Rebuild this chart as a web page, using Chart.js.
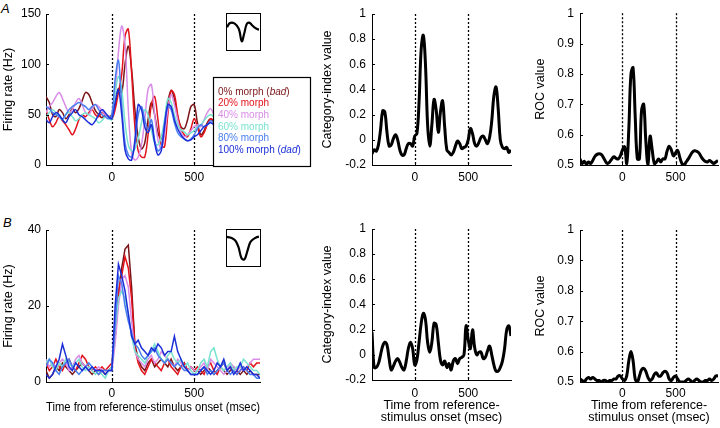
<!DOCTYPE html>
<html>
<head>
<meta charset="utf-8">
<script src="https://cdn.jsdelivr.net/npm/chart.js@4.4.1/dist/chart.umd.min.js"></script>
<style>
  body { margin: 0; background: #fff; }
  #wrap { position: relative; width: 720px; height: 428px; overflow: hidden; font-family: "Liberation Sans", Arial, sans-serif; }
  canvas { position: absolute; }
  .inset { position: absolute; width: 35px; height: 38px; border: 1.5px solid #000; box-sizing: border-box; background: #fff; }
  .inset canvas { left: 0; top: 0; }
  .tag { position: absolute; font-style: italic; font-size: 13px; line-height: 1; }
</style>
</head>
<body>
<div id="wrap">
  <div class="tag" style="left:1px; top:2px">A</div>
  <div class="tag" style="left:3px; top:216px">B</div>

  <canvas id="rateA" width="320" height="200" style="left:1px; top:0"></canvas>
  <canvas id="catA" width="196" height="200" style="left:320px; top:0"></canvas>
  <canvas id="rocA" width="187" height="200" style="left:533px; top:0"></canvas>

  <canvas id="rateB" width="320" height="212" style="left:1px; top:216px"></canvas>
  <canvas id="catB" width="196" height="213" style="left:320px; top:215px"></canvas>
  <canvas id="rocB" width="187" height="212" style="left:533px; top:216px"></canvas>

  <div class="inset" style="left:226px; top:13px"><canvas id="waveA" width="32" height="35"></canvas></div>
  <div class="inset" style="left:226px; top:229px"><canvas id="waveB" width="32" height="35"></canvas></div>
</div>

<script>
// time bins (msec from reference-stimulus onset)
const timeMs = [-400, -380, -360, -340, -320, -300, -280, -260, -240, -220, -200, -180, -160, -140, -120, -100, -80, -60, -40, -20,
  0, 20, 40, 60, 80, 100, 120, 140, 160, 180, 200, 220, 240, 260, 280, 300, 320, 340, 360, 380, 400, 420, 440, 460, 480, 500,
  520, 540, 560, 580, 600, 620, 640, 660, 680, 700, 720, 740, 760, 780, 800, 820, 840, 860, 880, 900];
const markerTimes = [0, 500];
const xTickValues = [0, 500];

const morphLevels = ['0%', '20%', '40%', '60%', '80%', '100%'];
const morphNotes = ['bad', '', '', '', '', 'dad'];
const morphColors = ['#7a1418', '#e3121b', '#d98de6', '#79e3cf', '#4a7ef0', '#1c2ed8'];

// neuron A firing rate (Hz), -400..620 ms
const rateA0 = [68, 62, 50, 48, 55, 52, 46, 50, 56, 52, 56, 64, 72, 70, 62, 54, 50, 47, 50, 48,
  50, 60, 76, 72, 100, 118, 95, 55, 28, 16, 22, 45, 62, 50, 32, 26, 35, 62, 74, 66, 48, 38, 36, 45, 58, 60, 42, 30, 34, 42, 46, 42];
const rateA20 = [55, 45, 38, 42, 48, 44, 40, 35, 30, 36, 45, 50, 48, 52, 55, 50, 48, 52, 50, 48,
  46, 55, 72, 90, 128, 135, 92, 38, 14, 8, 8, 30, 60, 68, 45, 20, 18, 50, 74, 70, 50, 36, 30, 28, 36, 46, 38, 28, 32, 40, 46, 44];
const rateA40 = [52, 58, 62, 68, 72, 66, 58, 52, 55, 62, 66, 60, 52, 50, 56, 60, 58, 54, 50, 48,
  48, 72, 112, 138, 120, 55, 12, 5, 8, 20, 45, 75, 80, 50, 25, 16, 30, 55, 70, 60, 45, 32, 28, 30, 34, 38, 40, 38, 45, 52, 56, 50];
const rateA60 = [48, 52, 55, 52, 48, 45, 50, 52, 48, 44, 46, 50, 52, 50, 48, 46, 42, 44, 48, 46,
  45, 70, 88, 75, 42, 20, 14, 16, 26, 42, 55, 50, 35, 22, 20, 28, 45, 66, 62, 50, 40, 35, 33, 30, 32, 34, 38, 40, 44, 48, 50, 48];
const rateA80 = [58, 56, 52, 50, 48, 46, 50, 55, 58, 60, 62, 60, 58, 55, 58, 60, 55, 50, 48, 46,
  50, 85, 104, 60, 22, 10, 8, 20, 50, 58, 45, 35, 45, 25, 14, 18, 42, 58, 55, 42, 32, 28, 26, 24, 26, 30, 36, 40, 38, 40, 44, 42];
const rateA100 = [45, 42, 48, 52, 50, 45, 42, 48, 52, 55, 50, 48, 45, 42, 40, 44, 50, 55, 52, 48,
  46, 62, 75, 50, 15, 6, 5, 25, 60, 55, 38, 32, 40, 22, 10, 14, 38, 60, 58, 45, 36, 30, 26, 24, 25, 28, 30, 34, 38, 40, 42, 40];

// neuron B firing rate (Hz), -400..900 ms
const rateB0 = [3, 1, 2, 4, 3, 5, 4, 3, 2, 3, 4, 5, 4, 3, 2, 3, 2, 3, 2, 3,
  4, 12, 22, 30, 35, 36, 25, 10, 6, 4, 3, 5, 6, 4, 5, 6, 5, 4, 6, 4, 3, 4, 5, 3, 4, 3,
  3, 2, 3, 4, 3, 2, 3, 4, 3, 2, 3, 4, 3, 2, 3, 2, 3, 2, 2, 2];
const rateB20 = [5, 3, 4, 6, 4, 3, 5, 6, 4, 3, 5, 7, 6, 4, 3, 4, 3, 4, 3, 4,
  5, 12, 24, 28, 33, 30, 22, 9, 5, 3, 2, 4, 6, 5, 4, 3, 5, 6, 4, 3, 2, 4, 5, 3, 4, 3,
  4, 3, 2, 4, 5, 3, 2, 4, 5, 3, 4, 3, 2, 3, 4, 3, 5, 4, 5, 5];
const rateB40 = [6, 4, 5, 4, 5, 6, 5, 3, 4, 6, 7, 5, 4, 3, 4, 3, 4, 3, 3, 3,
  3, 10, 20, 27, 28, 25, 16, 8, 6, 5, 4, 6, 7, 5, 6, 8, 7, 6, 5, 4, 6, 5, 4, 3, 4, 3,
  3, 4, 5, 3, 6, 5, 4, 3, 2, 3, 5, 4, 3, 4, 3, 4, 5, 6, 6, 6];
const rateB60 = [5, 6, 4, 3, 5, 4, 6, 5, 4, 5, 6, 4, 3, 4, 3, 2, 3, 2, 1, 3,
  4, 14, 22, 24, 22, 18, 12, 8, 7, 6, 5, 7, 8, 10, 8, 6, 5, 7, 8, 6, 5, 6, 4, 5, 3, 2,
  3, 5, 6, 4, 8, 9, 6, 4, 3, 4, 5, 3, 4, 4, 6, 5, 4, 3, 3, 2];
const rateB80 = [4, 6, 5, 3, 2, 4, 5, 6, 4, 3, 2, 3, 4, 5, 4, 3, 2, 3, 3, 3,
  3, 15, 28, 26, 20, 16, 13, 10, 9, 7, 6, 7, 8, 9, 7, 6, 5, 6, 5, 4, 5, 4, 3, 3, 2, 2,
  2, 3, 4, 2, 3, 2, 3, 4, 5, 3, 2, 3, 2, 3, 4, 3, 2, 2, 1, 1];
const rateB100 = [2, 1, 2, 4, 6, 10, 7, 4, 3, 5, 4, 3, 4, 3, 4, 3, 3, 3, 2, 3,
  3, 20, 31, 28, 24, 18, 12, 10, 11, 9, 8, 7, 9, 8, 10, 9, 7, 8, 8, 12, 8, 6, 4, 3, 2, 2,
  2, 3, 4, 3, 2, 3, 5, 4, 6, 3, 4, 2, 3, 5, 3, 4, 3, 2, 2, 1];

// category index and ROC, -400..900 ms
const catIndexA = [-0.11, -0.08, -0.09, -0.04, 0.08, 0.23, 0.22, 0.06, -0.05, -0.04, 0.01, 0.04, 0.0, -0.08, -0.12, -0.12, -0.07, -0.03, -0.03, -0.05,
  0.03, 0.05, 0.3, 0.72, 0.83, 0.6, 0.12, -0.05, 0.12, 0.32, 0.24, 0.06, 0.22, 0.31, 0.1, -0.08, -0.1, -0.12, -0.1, -0.05,
  -0.01, -0.03, -0.07, -0.06, -0.05, 0.0, 0.09, 0.05, -0.03, -0.05, -0.02, 0.02, 0.03, 0.0, -0.03, 0.02, 0.15, 0.35, 0.42, 0.25,
  0.0, -0.06, -0.07, -0.06, -0.1, -0.08];
const rocA = [0.52, 0.505, 0.512, 0.503, 0.51, 0.505, 0.515, 0.528, 0.535, 0.537, 0.535, 0.525, 0.512, 0.505, 0.51, 0.52, 0.527, 0.522, 0.52, 0.53,
  0.55, 0.56, 0.505, 0.62, 0.8, 0.82, 0.66, 0.52, 0.52, 0.68, 0.7, 0.58, 0.5, 0.595, 0.55, 0.505, 0.51, 0.52, 0.51, 0.52,
  0.52, 0.545, 0.562, 0.55, 0.53, 0.54, 0.548, 0.525, 0.505, 0.5, 0.51, 0.52, 0.532, 0.543, 0.547, 0.545, 0.54, 0.528, 0.518, 0.512,
  0.51, 0.515, 0.51, 0.505, 0.51, 0.515];
const catIndexB = [0.18, -0.1, -0.1, -0.07, 0.0, 0.07, 0.1, 0.08, -0.03, -0.12, -0.09, -0.05, -0.03, -0.06, -0.1, -0.12, -0.05, 0.05, 0.1, 0.05,
  -0.08, -0.04, 0.1, 0.25, 0.33, 0.28, 0.1, 0.02, 0.1, 0.25, 0.24, 0.1, -0.04, -0.08, -0.05, -0.1, -0.07, -0.12, -0.05, -0.03,
  -0.07, -0.03, -0.02, 0.0, 0.23, 0.12, 0.05, 0.2, 0.06, 0.0, 0.02, 0.02, -0.03, -0.02, 0.03, 0.07, 0.0, -0.08, -0.13, -0.13,
  -0.1, -0.05, 0.05, 0.2, 0.23, 0.15];
const rocB = [0.51, 0.505, 0.5, 0.51, 0.515, 0.51, 0.515, 0.51, 0.505, 0.505, 0.5, 0.505, 0.505, 0.5, 0.505, 0.505, 0.51, 0.51, 0.52, 0.52,
  0.51, 0.505, 0.52, 0.57, 0.6, 0.57, 0.51, 0.5, 0.52, 0.54, 0.545, 0.535, 0.515, 0.505, 0.51, 0.525, 0.53, 0.52, 0.52, 0.53,
  0.535, 0.53, 0.51, 0.505, 0.515, 0.52, 0.51, 0.5, 0.5, 0.5, 0.505, 0.51, 0.505, 0.5, 0.505, 0.51, 0.505, 0.5, 0.5, 0.505,
  0.505, 0.51, 0.505, 0.51, 0.52, 0.52];

// spike waveforms (normalised amplitude)
const waveA = [0.2, 0.45, 0.5, 0.45, 0.3, 0.0, -0.7, -0.2, 0.4, 0.5, 0.36, 0.2, 0.1, 0.04];
const waveB = [0.9, 0.85, 0.75, 0.55, 0.0, -0.9, -1.0, -0.3, 0.45, 0.7, 0.85, 0.92];

const rateTicksA = [0, 50, 100, 150];
const rateTicksB = [0, 20, 40];
const catTicks = [-0.2, 0, 0.2, 0.4, 0.6, 0.8, 1];
const rocTicks = [0.5, 0.6, 0.7, 0.8, 0.9, 1];

const FONT = "'Liberation Sans', Arial, Helvetica, sans-serif";
const tickFont = { family: FONT, size: 12 };

// dotted lines at stimulus onset / offset
const stimMarks = {
  id: 'stimMarks',
  beforeDatasetsDraw(chart) {
    const { ctx, chartArea: a, scales: { x } } = chart;
    ctx.save();
    ctx.strokeStyle = '#000';
    ctx.lineWidth = 1.3;
    ctx.setLineDash([2, 2]);
    markerTimes.forEach(t => {
      const px = Math.round(x.getPixelForValue(t)) + 0.5;
      ctx.beginPath();
      ctx.moveTo(px, a.top);
      ctx.lineTo(px, a.bottom);
      ctx.stroke();
    });
    ctx.restore();
  }
};

// matlab style inward ticks
const innerTicks = {
  id: 'innerTicks',
  afterDraw(chart) {
    const { ctx, chartArea: a, scales: { x, y } } = chart;
    ctx.save();
    ctx.strokeStyle = '#000';
    ctx.lineWidth = 1;
    ctx.beginPath();
    y.ticks.forEach(t => {
      const py = Math.round(y.getPixelForValue(t.value)) + 0.5;
      ctx.moveTo(a.left, py); ctx.lineTo(a.left + 3, py);
    });
    x.ticks.forEach(t => {
      const px = Math.round(x.getPixelForValue(t.value)) + 0.5;
      ctx.moveTo(px, a.bottom); ctx.lineTo(px, a.bottom - 3);
    });
    ctx.stroke();
    ctx.restore();
  }
};

// boxed morph legend, covers right part of panel A
const morphKey = {
  id: 'morphKey',
  afterDraw(chart) {
    const { ctx, chartArea: a } = chart;
    const left = a.right - 47, top = a.top + 63, w = 97, h = a.bottom - a.top - 62;
    ctx.save();
    ctx.fillStyle = '#fff';
    ctx.fillRect(left, top, w, h);
    ctx.strokeStyle = '#000';
    ctx.lineWidth = 1.2;
    ctx.strokeRect(left + 0.5, top + 0.5, w, h);
    ctx.textBaseline = 'middle';
    morphLevels.forEach((lvl, i) => {
      const y = top + 15 + i * 11.6;
      let x = left + 5;
      ctx.fillStyle = morphColors[i];
      ctx.font = '10px ' + FONT;
      const main = lvl + ' morph' + (morphNotes[i] ? ' (' : '');
      ctx.fillText(main, x, y);
      x += ctx.measureText(main).width;
      if (morphNotes[i]) {
        ctx.font = 'italic 10px ' + FONT;
        ctx.fillText(morphNotes[i], x, y);
        x += ctx.measureText(morphNotes[i]).width;
        ctx.font = '10px ' + FONT;
        ctx.fillText(')', x, y);
      }
    });
    ctx.restore();
  }
};

function series(vals, color, width, tension, order) {
  return {
    data: vals.map((v, j) => ({ x: timeMs[j], y: v })),
    borderColor: color,
    borderWidth: width,
    tension: tension,
    order: order,
    pointRadius: 0
  };
}

function makePanel(id, o) {
  return new Chart(document.getElementById(id), {
    type: 'line',
    data: { datasets: o.datasets },
    options: {
      responsive: false,
      animation: false,
      events: [],
      layout: { padding: { left: 0, top: o.top, right: o.right, bottom: 0 } },
      plugins: { legend: { display: false }, tooltip: { enabled: false } },
      scales: {
        x: {
          type: 'linear', min: -400, max: 900,
          afterBuildTicks: s => { s.ticks = xTickValues.map(v => ({ value: v })); },
          afterFit: s => { s.height = o.xHeight; },
          grid: { display: false, drawTicks: false },
          border: { color: '#000', width: 1 },
          ticks: { color: '#000', font: tickFont, padding: o.xPad, maxRotation: 0, callback: v => String(v) },
          title: o.xTitle ? {
            display: true, text: o.xTitle, color: '#000',
            font: { family: FONT, size: 12.5, lineHeight: o.xTitleLine || 1.2 },
            padding: { top: 0, bottom: o.xTitlePad }
          } : { display: false }
        },
        y: {
          min: o.yMin, max: o.yMax,
          afterBuildTicks: s => { s.ticks = o.yTicks.map(v => ({ value: v })); },
          afterFit: s => { s.width = o.yWidth; },
          grid: { display: false, drawTicks: false },
          border: { color: '#000', width: 1 },
          ticks: { color: '#000', font: tickFont, padding: o.yPad, callback: v => String(v) },
          title: {
            display: true, text: o.yTitle, color: '#000',
            font: { family: FONT, size: 12.5 },
            padding: { top: 0, bottom: 0 }
          }
        }
      }
    },
    plugins: [stimMarks, innerTicks].concat(o.extra || [])
  });
}

function makeWave(id, vals, yMin, yMax) {
  return new Chart(document.getElementById(id), {
    type: 'line',
    data: {
      labels: vals.map((_, i) => i),
      datasets: [{ data: vals, borderColor: '#000', borderWidth: 2.2, tension: 0.4, pointRadius: 0 }]
    },
    options: {
      responsive: false, animation: false, events: [],
      layout: { padding: 0 },
      plugins: { legend: { display: false }, tooltip: { enabled: false } },
      scales: { x: { display: false }, y: { display: false, min: yMin, max: yMax } }
    }
  });
}

const ratesA = [rateA0, rateA20, rateA40, rateA60, rateA80, rateA100];
const ratesB = [rateB0, rateB20, rateB40, rateB60, rateB80, rateB100];

makePanel('rateA', {
  datasets: ratesA.map((v, i) => series(v, morphColors[i], 1.5, 0.35, ratesA.length - 1 - i)),
  top: 14, right: 61, xHeight: 35, yWidth: 45, xPad: 5, yPad: 5,
  yMin: 0, yMax: 150, yTicks: rateTicksA, yTitle: 'Firing rate (Hz)',
  extra: [morphKey]
});
makePanel('catA', {
  datasets: [series(catIndexA, '#000', 3, 0.4, 0)],
  top: 14, right: 5, xHeight: 35, yWidth: 52, xPad: 5, yPad: 6,
  yMin: -0.2, yMax: 1, yTicks: catTicks, yTitle: 'Category-index value'
});
makePanel('rocA', {
  datasets: [series(rocA, '#000', 3, 0.4, 0)],
  top: 13, right: 2, xHeight: 35, yWidth: 47, xPad: 5, yPad: 6,
  yMin: 0.5, yMax: 1, yTicks: rocTicks, yTitle: 'ROC value'
});

makePanel('rateB', {
  datasets: ratesB.map((v, i) => series(v, morphColors[i], 1.5, 0, ratesB.length - 1 - i)),
  top: 14, right: 61, xHeight: 46, yWidth: 45, xPad: 4, yPad: 5,
  yMin: 0, yMax: 40, yTicks: rateTicksB, yTitle: 'Firing rate (Hz)',
  xTitle: 'Time from reference-stimulus onset (msec)', xTitlePad: 13
});
makePanel('catB', {
  datasets: [series(catIndexB, '#000', 3, 0.4, 0)],
  top: 14, right: 5, xHeight: 48, yWidth: 52, xPad: 6, yPad: 6,
  yMin: -0.2, yMax: 1, yTicks: catTicks, yTitle: 'Category-index value',
  xTitle: ['Time from reference-', 'stimulus onset (msec)'], xTitleLine: 0.96, xTitlePad: 4
});
makePanel('rocB', {
  datasets: [series(rocB, '#000', 3, 0.4, 0)],
  top: 14, right: 2, xHeight: 46, yWidth: 47, xPad: 4, yPad: 6,
  yMin: 0.5, yMax: 1, yTicks: rocTicks, yTitle: 'ROC value',
  xTitle: ['Time from reference-', 'stimulus onset (msec)'], xTitleLine: 0.96, xTitlePad: 4
});

makeWave('waveA', waveA, -1.2, 1.05);
makeWave('waveB', waveB, -1.47, 1.48);
</script>
</body>
</html>
